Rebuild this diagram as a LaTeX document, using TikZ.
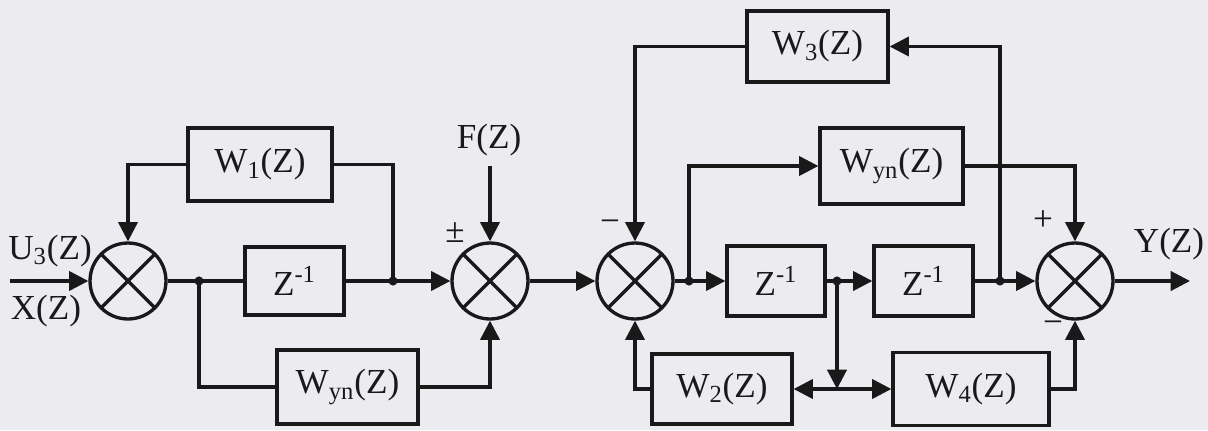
\documentclass[tikz,border=0pt]{standalone}
\usepackage{fontspec}
\setmainfont{Liberation Serif}
\usetikzlibrary{arrows.meta}
\definecolor{bgc}{RGB}{236,236,240}
\definecolor{ink}{RGB}{25,25,25}
\tikzset{
  lbl/.style={font=\fontsize{20}{23}\selectfont, text=ink, inner sep=0pt},
  blk/.style={draw=ink, line width=1.9pt, rectangle, inner sep=0pt, font=\fontsize{20}{23}\selectfont, text=ink},
  sumnode/.style={draw=ink, line width=1.9pt, circle, minimum size=1.52cm, inner sep=0pt,
    path picture={\draw[ink, line width=1.9pt] (path picture bounding box.north west) -- (path picture bounding box.south east)
      (path picture bounding box.north east) -- (path picture bounding box.south west);}},
  wire/.style={draw=ink, line width=1.8pt},
  arr/.style={wire, -{Triangle[length=11pt,width=11pt]}},
  dot/.style={fill=ink}
}
\begin{document}
\begin{tikzpicture}[x=0.02cm, y=-0.02cm]
\fill[bgc] (0,0) rectangle (1208,430);
\useasboundingbox (0,0) rectangle (1208,430);

% summing junctions
\node[sumnode] (s1) at (128,281) {};
\node[sumnode] (s2) at (490,281) {};
\node[sumnode] (s3) at (635,281) {};
\node[sumnode] (s4) at (1075,281) {};

% blocks
\node[blk, minimum width=2.88cm, minimum height=1.46cm] (W1) at (260,164.5) {W\textsubscript{1}(Z)};
\node[blk, minimum width=1.98cm, minimum height=1.36cm] (Z1) at (294.5,281) {Z\textsuperscript{-1}};
\node[blk, minimum width=2.82cm, minimum height=1.48cm] (Wyn1) at (347.5,387) {W\textsubscript{yn}(Z)};
\node[blk, minimum width=2.82cm, minimum height=1.42cm] (W3) at (817.5,46.5) {W\textsubscript{3}(Z)};
\node[blk, minimum width=2.86cm, minimum height=1.52cm] (Wyn2) at (891.5,166) {W\textsubscript{yn}(Z)};
\node[blk, minimum width=1.96cm, minimum height=1.40cm] (Z2) at (776,281) {Z\textsuperscript{-1}};
\node[blk, minimum width=1.98cm, minimum height=1.40cm] (Z3) at (923.5,281) {Z\textsuperscript{-1}};
\node[blk, minimum width=2.80cm, minimum height=1.40cm] (W2) at (722,389) {W\textsubscript{2}(Z)};
\node[blk, minimum width=3.12cm, minimum height=1.46cm] (W4) at (971,389) {W\textsubscript{4}(Z)};

% labels
\node[lbl] (lu) at (50,251) {U\textsubscript{3}(Z)};
\node[lbl] (lx) at (46,311) {X(Z)};
\node[lbl] (lf) at (489,140) {F(Z)};
\node[lbl] (lpm) at (455,233) {±};
\node[lbl] (lm3) at (610,226) {−};
\node[lbl] (lp4) at (1043,221) {+};
\node[lbl] (lm4) at (1053,327) {−};
\node[lbl] (ly) at (1169,244) {Y(Z)};

% coordinates
\coordinate (in) at (10,281);
\coordinate (j1) at (199,281);
\coordinate (j2) at (393,281);
\coordinate (f) at (490,166);
\coordinate (j3) at (689,281);
\coordinate (j4) at (837,281);
\coordinate (k) at (837,389);
\coordinate (j5) at (1000,281);
\coordinate (out) at (1190,281);

% connectors
\draw[arr] (in) -- (s1.west);
\draw[wire] (s1.east) -- (Z1.west);
\draw[wire] (j1) |- (Wyn1.west);
\draw[arr] (W1.west) -| (s1.north);
\draw[wire] (W1.east) -| (j2);
\draw[wire] (Z1.east) -- (j2);
\draw[arr] (j2) -- (s2.west);
\draw[arr] (Wyn1.east) -| (s2.south);
\draw[arr] (f) -- (s2.north);
\draw[arr] (s2.east) -- (s3.west);
\draw[wire] (s3.east) -- (j3);
\draw[arr] (j3) -- (Z2.west);
\draw[arr] (j3) |- (Wyn2.west);
\draw[arr] (W3.west) -| (s3.north);
\draw[arr] (W2.west) -| (s3.south);
\draw[wire] (Z2.east) -- (j4);
\draw[arr] (j4) -- (Z3.west);
\draw[arr] (j4) -- (k);
\draw[arr] (k) -- (W2.east);
\draw[arr] (k) -- (W4.west);
\draw[wire] (Z3.east) -- (j5);
\draw[arr] (j5) -- (s4.west);
\draw[arr] (j5) |- (W3.east);
\draw[arr] (Wyn2.east) -| (s4.north);
\draw[arr] (W4.east) -| (s4.south);
\draw[arr] (s4.east) -- (out);

% junction dots
\foreach \p in {j1,j2,j3,j4,j5} \fill[dot] (\p) circle (2.6pt);
\end{tikzpicture}
\end{document}
